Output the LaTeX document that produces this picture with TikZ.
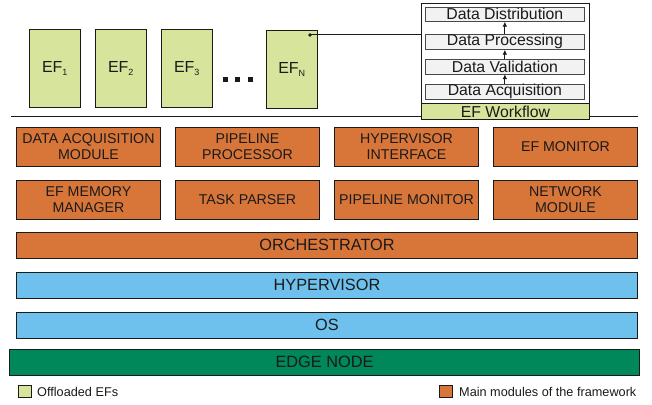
\documentclass[tikz,border=0pt]{standalone}
\usepackage{fontspec}
\setmainfont{Liberation Sans}
\usetikzlibrary{arrows.meta,calc}
\definecolor{efgreen}{RGB}{214,228,156}
\definecolor{modorange}{RGB}{216,118,58}
\definecolor{layblue}{RGB}{110,193,236}
\definecolor{edgegreen}{RGB}{0,135,90}
\definecolor{wfgray}{RGB}{242,242,242}
\definecolor{ink}{RGB}{26,26,26}
\tikzset{
  box/.style={draw=ink, line width=1pt, inner sep=0pt, anchor=north west, align=center, text=ink},
  efbox/.style={box, fill=efgreen, minimum width=51pt, minimum height=78pt, font=\fontsize{16}{18}\selectfont},
  modbox/.style={box, fill=modorange, minimum width=144pt, minimum height=38.5pt, font=\fontsize{14.2}{15.5}\selectfont},
  layer/.style={box, minimum width=621pt, minimum height=25.5pt, font=\fontsize{16.3}{18}\selectfont},
  wfstep/.style={box, draw=ink!80, line width=0.7pt, fill=wfgray, minimum width=159pt, font=\fontsize{15.8}{17}\selectfont},
  legsq/.style={draw=ink, line width=1pt, minimum width=13pt, minimum height=12pt, inner sep=0pt, anchor=north west},
  legtxt/.style={anchor=west, inner sep=0pt, text=ink, font=\fontsize{12.7}{14}\selectfont},
  steparrow/.style={-{Latex[length=5pt,width=4.5pt]}, line width=0.8pt, draw=ink},
}
\begin{document}
\begin{tikzpicture}[x=1pt,y=-1pt]
\useasboundingbox (0,0) rectangle (652,404);
% separator line
\coordinate (sepL) at (11,116);
\coordinate (sepR) at (638,116);
\draw[line width=1pt, ink] (sepL) -- (sepR);
% EF boxes
\node[efbox] (ef1) at (29,29) {EF\textsubscript{\fontsize{9}{9}\selectfont 1}};
\node[efbox] (ef2) at (95,29) {EF\textsubscript{\fontsize{9}{9}\selectfont 2}};
\node[efbox] (ef3) at (161,29) {EF\textsubscript{\fontsize{9}{9}\selectfont 3}};
\node[efbox] (efn) at (266,30) {EF\textsubscript{\fontsize{9}{9}\selectfont N}};
\foreach \dx in {225,237.5,250} \fill[ink] (\dx-2.5,77) rectangle ++(5,5);
% workflow
\node[box, fill=white, minimum width=168pt, minimum height=100pt] (wf) at (421,3) {};
\node[box, fill=efgreen, minimum width=168pt, minimum height=16pt, font=\fontsize{15.8}{17}\selectfont] (wflab) at (421,103) {EF Workflow};
\node[wfstep, minimum height=14pt] (dist) at (425,7) {Data Distribution};
\node[wfstep, minimum height=15pt] (proc) at (425,34) {Data Processing};
\node[wfstep, minimum height=14.5pt] (val) at (425,59) {Data Validation};
\node[wfstep, minimum height=15pt] (acq) at (425,84) {Data Acquisition};
\draw[steparrow] (acq.north) -- (val.south);
\draw[steparrow] (val.north) -- (proc.south);
\draw[steparrow] (proc.north) -- (dist.south);
% connector from EF_N
\fill[ink] (310,35) circle (1.8pt) coordinate (dot);
\draw[line width=1pt, ink] (dot) -- (dot -| wf.west);
% modules row 1
\node[modbox] (dam) at (16,127) {DATA ACQUISITION\\MODULE};
\node[modbox] (pp) at (175,127) {PIPELINE\\PROCESSOR};
\node[modbox] (hi) at (334,127) {HYPERVISOR\\INTERFACE};
\node[modbox] (efm) at (493,127) {EF MONITOR};
% modules row 2
\node[modbox] (mem) at (16,180) {EF MEMORY\\MANAGER};
\node[modbox] (tp) at (175,180) {TASK PARSER};
\node[modbox] (pm) at (334,180) {PIPELINE MONITOR};
\node[modbox] (net) at (493,180) {NETWORK\\MODULE};
% layers
\node[layer, fill=modorange] (orch) at (16,232) {ORCHESTRATOR};
\node[layer, fill=layblue] (hyp) at (16,272) {HYPERVISOR};
\node[layer, fill=layblue] (os) at (16,312) {OS};
\node[layer, fill=edgegreen, minimum width=630pt] (edge) at (9,349) {EDGE NODE};
% legend
\node[legsq, fill=efgreen] (lg1) at (18,385) {};
\node[legtxt] (lt1) at ($(lg1.east)+(5,0)$) {Offloaded EFs};
\node[legsq, fill=modorange] (lg2) at (439,385) {};
\node[legtxt] (lt2) at ($(lg2.east)+(6,0)$) {Main modules of the framework};
\end{tikzpicture}
\end{document}
